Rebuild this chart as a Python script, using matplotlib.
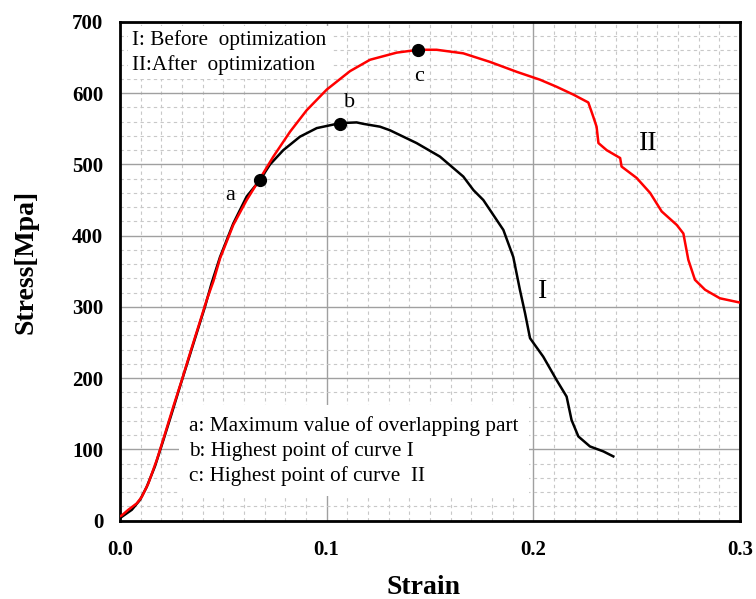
import matplotlib
matplotlib.use("Agg")
import matplotlib.pyplot as plt
from matplotlib.ticker import MultipleLocator, FixedLocator

plt.rcParams['font.family'] = ['Liberation Serif', 'DejaVu Serif']

strain_I = [0.0, 0.0008, 0.0057, 0.0097, 0.0129, 0.0169, 0.021, 0.025, 0.029, 0.033, 0.0371,
            0.0411, 0.0444, 0.0484, 0.0548, 0.0613, 0.0677, 0.0726, 0.079, 0.0871, 0.0952,
            0.1065, 0.1145, 0.1177, 0.1258, 0.1306, 0.1435, 0.1548, 0.1661, 0.171, 0.1758,
            0.1855, 0.1903, 0.1935, 0.196, 0.1984, 0.2048, 0.2113, 0.2161, 0.2185, 0.2218,
            0.2274, 0.2339, 0.2387]
stress_I = [3, 5, 15, 29, 47, 76, 113, 150, 188, 225, 263,
            300, 334, 370, 417, 455, 478, 500, 520, 539, 551,
            558, 559, 557, 553, 548, 530, 511, 483, 464, 450,
            408, 370, 324, 291, 256, 230, 197, 174, 141, 118,
            104, 97, 90]

strain_II = [0.0, 0.0008, 0.004, 0.0081, 0.0105, 0.0137, 0.0178, 0.0218, 0.0258, 0.0299,
             0.0339, 0.0379, 0.042, 0.0452, 0.0484, 0.0548, 0.0613, 0.0677, 0.0742, 0.0823,
             0.0903, 0.1, 0.1113, 0.121, 0.1339, 0.1444, 0.1532, 0.1661, 0.179, 0.192,
             0.2032, 0.2113, 0.2194, 0.2266, 0.229, 0.2306, 0.2315, 0.2355, 0.242, 0.2427,
             0.25, 0.2565, 0.2621, 0.2694, 0.2726, 0.275, 0.2782, 0.2831, 0.2903, 0.3]
stress_II = [6, 7, 15, 24, 33, 52, 85, 122, 160, 197,
             235, 272, 310, 336, 368, 415, 450, 480, 511, 546,
             576, 605, 631, 647, 657, 661, 661, 656, 644, 630,
             619, 609, 598, 587, 567, 553, 530, 520, 509, 497,
             481, 460, 434, 415, 403, 366, 338, 324, 312, 306]

point_labels = ['a', 'b', 'c']
point_strain = [0.0677, 0.1065, 0.1444]
point_stress = [478, 557, 661]

x_ticks = [0.0, 0.1, 0.2, 0.3]
x_tick_labels = ['0.0', '0.1', '0.2', '0.3']
y_ticks = [0, 100, 200, 300, 400, 500, 600, 700]

fig = plt.figure(figsize=(7.56, 5.99), dpi=100)
ax = fig.add_axes([120/756, 1 - 520.5/599, 620/756, 498.5/599])

ax.set_xlim(0, 0.3)
ax.set_ylim(0, 700)
ax.xaxis.set_major_locator(FixedLocator(x_ticks))
ax.set_xticklabels(x_tick_labels)
ax.yaxis.set_major_locator(FixedLocator(y_ticks))
ax.xaxis.set_minor_locator(MultipleLocator(0.01))
ax.yaxis.set_minor_locator(MultipleLocator(20))

ax.grid(which='major', color='#a0a0a0', linewidth=1.0, linestyle='-', zorder=0)
ax.grid(which='minor', color='#c8c8c8', linewidth=0.8, linestyle=(0, (3, 3)), zorder=0)
ax.set_axisbelow(True)
ax.tick_params(which='both', length=0)
ax.tick_params(axis='y', pad=12)
ax.tick_params(axis='x', pad=14)
for lab in ax.get_xticklabels() + ax.get_yticklabels():
    lab.set_fontweight('bold')
    lab.set_fontsize(15)

for s in ax.spines.values():
    s.set_linewidth(2.0)
    s.set_color('black')

ax.plot(strain_I, stress_I, color='black', linewidth=1.8, zorder=3)
ax.plot(strain_II, stress_II, color='#ff0000', linewidth=1.8, zorder=3)
ax.plot(point_strain, point_stress, 'o', color='black', markersize=8.5, zorder=5)

ax.set_xlabel('Strain', fontsize=20, fontweight='bold')
ax.set_ylabel('Stress[Mpa]', fontsize=20, fontweight='bold')
ax.xaxis.set_label_coords((423 - 120) / 620, -(588 - 520.5) / 498.5)
ax.yaxis.set_label_coords(-(120 - 26) / 620, (520.5 - 262) / 498.5)
ax.xaxis.label.set_va('center')
ax.yaxis.label.set_va('center')

# point labels
offsets = [(-0.0145, -22), (0.0045, 30), (0.0003, -37)]
for lbl, x, y, (dx, dy) in zip(point_labels, point_strain, point_stress, offsets):
    ax.text(x + dx, y + dy, lbl, fontsize=16, ha='center', va='center', zorder=6)

ax.text(0.2555, 530, 'II', fontsize=20, ha='center', va='center', zorder=6)
ax.text(0.2045, 321, 'I', fontsize=20, ha='center', va='center', zorder=6)

# top-left annotation
ax.text(0.006, 688, 'I: Before  optimization\nII:After  optimization', fontsize=15.3,
        ha='left', va='top', linespacing=1.3, zorder=4,
        bbox=dict(facecolor='white', edgecolor='none', pad=3))

# bottom legend text
ax.text(0.0335, 98, 'a: Maximum value of overlapping part\nb: Highest point of curve I\nc: Highest point of curve  II',
        fontsize=15.3, ha='left', va='center', linespacing=1.35, zorder=4,
        bbox=dict(facecolor='white', edgecolor='none', boxstyle='square,pad=0.5'))

fig.savefig('out.png', dpi=100)
